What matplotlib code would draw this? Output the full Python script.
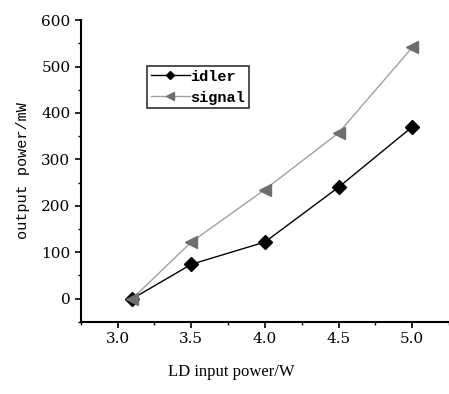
import numpy as np
import matplotlib.pyplot as plt
from matplotlib.ticker import MultipleLocator

# 数据
x = [3.1, 3.5, 4.0, 4.5, 5.0]
idler = [0, 74, 122, 240, 370]
signal = [0, 122, 235, 357, 541]

plt.rcParams['font.family'] = ['DejaVu Serif']
mono = ['Liberation Mono', 'DejaVu Sans Mono']

fig = plt.figure(figsize=(4.49, 3.94), dpi=100)
ax = fig.add_axes([0.180, 0.183, 0.82, 0.766])

ax.plot(x, idler, color='black', lw=1, marker='D', ms=7.5, label='idler')
ax.plot(x, signal, color='#a0a0a0', lw=1, marker='<', ms=9,
        markerfacecolor='#6e6e6e', markeredgecolor='#6e6e6e', label='signal')

ax.set_xlim(2.75, 5.25)
ax.set_ylim(-50, 600)
ax.xaxis.set_major_locator(MultipleLocator(0.5))
ax.xaxis.set_minor_locator(MultipleLocator(0.25))
ax.yaxis.set_major_locator(MultipleLocator(100))
ax.yaxis.set_minor_locator(MultipleLocator(50))
ax.xaxis.set_major_formatter(plt.FuncFormatter(lambda v, p: '%.1f' % v))

for s in ['top', 'right']:
    ax.spines[s].set_visible(False)
for s in ['left', 'bottom']:
    ax.spines[s].set_linewidth(1.5)
ax.tick_params(which='major', direction='out', length=4, width=1.2, labelsize=11)
ax.tick_params(which='minor', direction='out', length=2.5, width=1)

ax.set_ylabel('output power/mW', family=mono, fontsize=11, labelpad=8)
fig.text(0.515, 0.055, 'LD input power/W', ha='center', va='center', fontsize=12,
         family=['Liberation Serif'])

leg = ax.legend(loc='upper left', bbox_to_anchor=(0.179, 0.848), frameon=True,
                fancybox=False, edgecolor='black', handlelength=2.6,
                handletextpad=0.0, borderpad=0.25, labelspacing=0.45,
                borderaxespad=0, markerscale=0.6,
                prop={'family': mono, 'size': 11, 'weight': 'bold'})
leg.get_frame().set_linewidth(1.2)

fig.savefig('out.png', dpi=100)
